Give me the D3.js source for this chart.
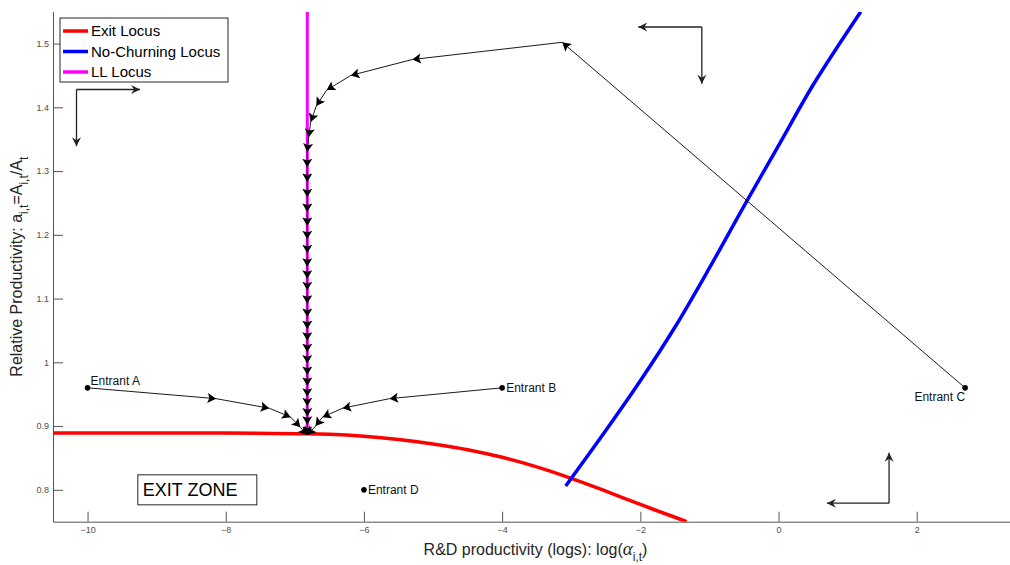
<!DOCTYPE html>
<html>
<head>
<meta charset="utf-8">
<script src="https://cdn.jsdelivr.net/npm/d3@7"></script>
<style>
  html, body { margin: 0; padding: 0; background: #fff; }
  #chart { width: 1010px; height: 565px; }
  text { font-family: "Liberation Sans", Arial, sans-serif; }
  .axis path, .axis line { stroke: #555; stroke-width: 1; }
  .axis text { font-size: 9px; fill: #4d4d4d; }
  .axis-title { font-size: 16px; fill: #262626; }
  .legend text { font-size: 15px; fill: #000; }
  .entrant { font-size: 12px; fill: #111; }
  .zone { font-size: 18px; fill: #000; }
</style>
</head>
<body>
<div id="chart"></div>
<script>

// axis ticks
const xTicks = [-10, -8, -6, -4, -2, 0, 2];
const yTicks = [0.8, 0.9, 1, 1.1, 1.2, 1.3, 1.4, 1.5];

// loci
const exitLocus = [
  [-10.5, 0.889], [-8, 0.889], [-7, 0.888], [-6.5, 0.887], [-6, 0.884],
  [-5.5, 0.879], [-5, 0.872], [-4.5, 0.863], [-4, 0.851], [-3.5, 0.836],
  [-3, 0.818], [-2.5, 0.798], [-2, 0.777], [-1.5, 0.757], [-1.33, 0.75]
];
const noChurningLocus = [
  [-3.08, 0.806], [-2.5, 0.893], [-2, 0.971], [-1.5, 1.055], [-1, 1.148],
  [-0.5, 1.245], [0, 1.340], [0.5, 1.435], [1.19, 1.550]
];
const llLocus = [[-6.82, 1.55], [-6.82, 0.888]];

const legendNames = ['Exit Locus', 'No-Churning Locus', 'LL Locus'];
const legendColors = ['#ff0000', '#0000ff', '#ff00ff'];

// entrant trajectories
const pathA = [
  [-10, 0.96], [-8.14, 0.943], [-7.37, 0.928], [-7.06, 0.914], [-6.92, 0.898], [-6.82, 0.886]
];
const pathB = [
  [-4, 0.96], [-5.63, 0.943], [-6.31, 0.928], [-6.60, 0.914], [-6.70, 0.900], [-6.82, 0.886]
];
const pathC = [
  [2.70, 0.96], [-3.13, 1.502], [-5.30, 1.475], [-6.19, 1.450], [-6.54, 1.427],
  [-6.69, 1.402], [-6.77, 1.377], [-6.80, 1.353],
  [-6.82, 1.330], [-6.82, 1.306], [-6.82, 1.283], [-6.82, 1.259], [-6.82, 1.236],
  [-6.82, 1.214], [-6.82, 1.193], [-6.82, 1.171], [-6.82, 1.150], [-6.82, 1.131],
  [-6.82, 1.113], [-6.82, 1.092], [-6.82, 1.071], [-6.82, 1.052], [-6.82, 1.034],
  [-6.82, 1.016], [-6.82, 0.998], [-6.82, 0.980], [-6.82, 0.963], [-6.82, 0.946],
  [-6.82, 0.931], [-6.82, 0.915], [-6.82, 0.902], [-6.82, 0.886]
];
const entrantD = [[-6, 0.80]];
const entrantNames = ['Entrant A', 'Entrant B', 'Entrant C', 'Entrant D'];

// direction arrows: corner, horizontal tip, vertical tip
const phaseArrows = [
  [[-10.16, 1.428], [-9.24, 1.428], [-10.16, 1.339]],
  [[-1.11, 1.526], [-2.03, 1.526], [-1.11, 1.437]],
  [[1.60, 0.779], [0.70, 0.779], [1.60, 0.858]]
];

const zoneLabel = 'EXIT ZONE';
const zonePos = [-9.2, 0.80];


class PhaseChart {

  constructor() {
    this._width = 1010;
    this._height = 565;
    this._plot = { left: 53, right: 1010, top: 11.7, bottom: 521.7 };
    this._arrowHead = 'M0,0L-8.5,-5L-6.8,0L-8.5,5Z';
  }

  renderTo(selector) {

    this._container = d3.select(selector);
    this._container.selectAll('*').remove();

    this._svg = this._container
      .append('svg')
      .attr('width', this._width)
      .attr('height', this._height);

    const p = this._plot;

    this._x = d3.scaleLinear()
      .domain([-10.5, 3.35])
      .range([p.left, p.right]);

    this._y = d3.scaleLinear()
      .domain([0.75, 1.55])
      .range([p.bottom, p.top]);

    this._svg.append('defs')
      .append('clipPath')
      .attr('id', 'plot-clip')
      .append('rect')
      .attr('x', p.left)
      .attr('y', p.top)
      .attr('width', p.right - p.left)
      .attr('height', p.bottom - p.top);

    this._drawAxes();
    this._drawLoci();
    this._drawTrajectories();
    this._drawPhaseArrows();
    this._drawAnnotations();
    this._drawLegend();

    return this;
  }

  _drawAxes() {

    const p = this._plot;

    this._svg.append('g')
      .attr('class', 'axis')
      .attr('transform', 'translate(0,' + p.bottom + ')')
      .call(d3.axisBottom(this._x)
        .tickValues(xTicks)
        .tickFormat(d3.format('d'))
        .tickSizeInner(-10)
        .tickSizeOuter(0)
        .tickPadding(5));

    this._svg.append('g')
      .attr('class', 'axis')
      .attr('transform', 'translate(' + p.left + ',0)')
      .call(d3.axisLeft(this._y)
        .tickValues(yTicks)
        .tickFormat(d => d === 1 ? '1' : d3.format('.1f')(d))
        .tickSizeInner(-10)
        .tickSizeOuter(0)
        .tickPadding(4));

    // x title
    const xt = this._svg.append('text')
      .attr('class', 'axis-title')
      .attr('x', (p.left + p.right) / 2 + 4)
      .attr('y', 555)
      .attr('text-anchor', 'middle');
    xt.append('tspan').text('R&D productivity (logs): log(');
    xt.append('tspan')
      .style('font-family', '"Liberation Serif", "DejaVu Serif", serif')
      .style('font-style', 'italic')
      .style('font-size', '19px')
      .text('\u03b1');
    xt.append('tspan').attr('dy', 6).style('font-size', '12px').text('i,t');
    xt.append('tspan').attr('dy', -6).text(')');

    // y title
    const yt = this._svg.append('text')
      .attr('class', 'axis-title')
      .attr('transform', 'translate(22,' + (p.top + p.bottom) / 2 + ') rotate(-90)')
      .attr('text-anchor', 'middle');
    yt.append('tspan').text('Relative Productivity: a');
    yt.append('tspan').attr('dy', 6).style('font-size', '12px').text('i,t');
    yt.append('tspan').attr('dy', -6).text('=A');
    yt.append('tspan').attr('dy', 6).style('font-size', '12px').text('i,t');
    yt.append('tspan').attr('dy', -6).text('/A');
    yt.append('tspan').attr('dy', 6).style('font-size', '12px').text('t');
  }

  _drawLoci() {

    const line = d3.line()
      .x(d => this._x(d[0]))
      .y(d => this._y(d[1]))
      .curve(d3.curveCatmullRom.alpha(0.5));

    const g = this._svg.append('g').attr('clip-path', 'url(#plot-clip)');

    g.append('path')
      .datum(llLocus)
      .attr('d', d3.line().x(d => this._x(d[0])).y(d => this._y(d[1])))
      .style('fill', 'none')
      .style('stroke', legendColors[2])
      .style('stroke-width', 3);

    g.append('path')
      .datum(exitLocus)
      .attr('d', line)
      .style('fill', 'none')
      .style('stroke', legendColors[0])
      .style('stroke-width', 3.5);

    g.append('path')
      .datum(noChurningLocus)
      .attr('d', line)
      .style('fill', 'none')
      .style('stroke', legendColors[1])
      .style('stroke-width', 3.5);
  }

  _drawTrajectories() {

    const line = d3.line()
      .x(d => this._x(d[0]))
      .y(d => this._y(d[1]));

    const g = this._svg.append('g').attr('class', 'trajectories');

    [pathA, pathB, pathC].forEach(path => {

      g.append('path')
        .datum(path)
        .attr('d', line)
        .style('fill', 'none')
        .style('stroke', '#000')
        .style('stroke-width', 0.9);

      g.append('circle')
        .attr('cx', this._x(path[0][0]))
        .attr('cy', this._y(path[0][1]))
        .attr('r', 2.8)
        .style('fill', '#000');

      g.selectAll(null)
        .data(path.slice(1).map((d, i) => [path[i], d]))
        .enter()
        .append('path')
        .attr('d', this._arrowHead)
        .attr('transform', d => this._headTransform(d[0], d[1]))
        .style('fill', '#000');
    });

    g.selectAll('circle.solo')
      .data(entrantD)
      .enter()
      .append('circle')
      .attr('class', 'solo')
      .attr('cx', d => this._x(d[0]))
      .attr('cy', d => this._y(d[1]))
      .attr('r', 2.8)
      .style('fill', '#000');
  }

  _headTransform(from, to) {

    const x0 = this._x(from[0]);
    const y0 = this._y(from[1]);
    const x1 = this._x(to[0]);
    const y1 = this._y(to[1]);
    const angle = Math.atan2(y1 - y0, x1 - x0) * 180 / Math.PI;
    return 'translate(' + [x1, y1] + ') rotate(' + angle + ')';
  }

  _drawPhaseArrows() {

    const g = this._svg.append('g').attr('class', 'phase');

    phaseArrows.forEach(a => {
      [a[1], a[2]].forEach(tip => {
        g.append('line')
          .attr('x1', this._x(a[0][0]))
          .attr('y1', this._y(a[0][1]))
          .attr('x2', this._x(tip[0]))
          .attr('y2', this._y(tip[1]))
          .style('stroke', '#222')
          .style('stroke-width', 1.3);
        g.append('path')
          .attr('d', 'M0,0L-9,-4.5L-6,0L-9,4.5Z')
          .attr('transform', this._headTransform(a[0], tip))
          .style('fill', '#222');
      });
    });
  }

  _drawAnnotations() {

    const starts = [pathA[0], pathB[0], pathC[0], entrantD[0]];
    const offsets = [
      { dx: 3, dy: -7, anchor: 'start' },
      { dx: 4, dy: 0, anchor: 'start' },
      { dx: 0, dy: 9, anchor: 'end' },
      { dx: 4, dy: 0, anchor: 'start' }
    ];

    this._svg.append('g')
      .selectAll('text')
      .data(entrantNames)
      .enter()
      .append('text')
      .attr('class', 'entrant')
      .attr('x', (d, i) => this._x(starts[i][0]) + offsets[i].dx)
      .attr('y', (d, i) => this._y(starts[i][1]) + offsets[i].dy)
      .attr('dy', '0.35em')
      .attr('text-anchor', (d, i) => offsets[i].anchor)
      .text(d => d);

    const zx = this._x(zonePos[0]);
    const zy = this._y(zonePos[1]);

    this._svg.append('rect')
      .attr('x', zx - 5)
      .attr('y', zy - 15)
      .attr('width', 119)
      .attr('height', 30)
      .style('fill', '#fff')
      .style('stroke', '#262626')
      .style('stroke-width', 1);

    this._svg.append('text')
      .attr('class', 'zone')
      .attr('x', zx)
      .attr('y', zy)
      .attr('dy', '0.35em')
      .text(zoneLabel);
  }

  _drawLegend() {

    const g = this._svg.append('g')
      .attr('class', 'legend')
      .attr('transform', 'translate(60,18)');

    g.append('rect')
      .attr('width', 168)
      .attr('height', 64)
      .style('fill', '#fff')
      .style('stroke', '#262626')
      .style('stroke-width', 1);

    const rows = g.selectAll('g.row')
      .data(legendNames)
      .enter()
      .append('g')
      .attr('class', 'row')
      .attr('transform', (d, i) => 'translate(0,' + (13 + i * 20.5) + ')');

    rows.append('line')
      .attr('x1', 3)
      .attr('x2', 28)
      .style('stroke', (d, i) => legendColors[i])
      .style('stroke-width', 3.5);

    rows.append('text')
      .attr('x', 31)
      .attr('dy', '0.35em')
      .text(d => d);
  }
}

new PhaseChart().renderTo('#chart');
</script>
</body>
</html>
